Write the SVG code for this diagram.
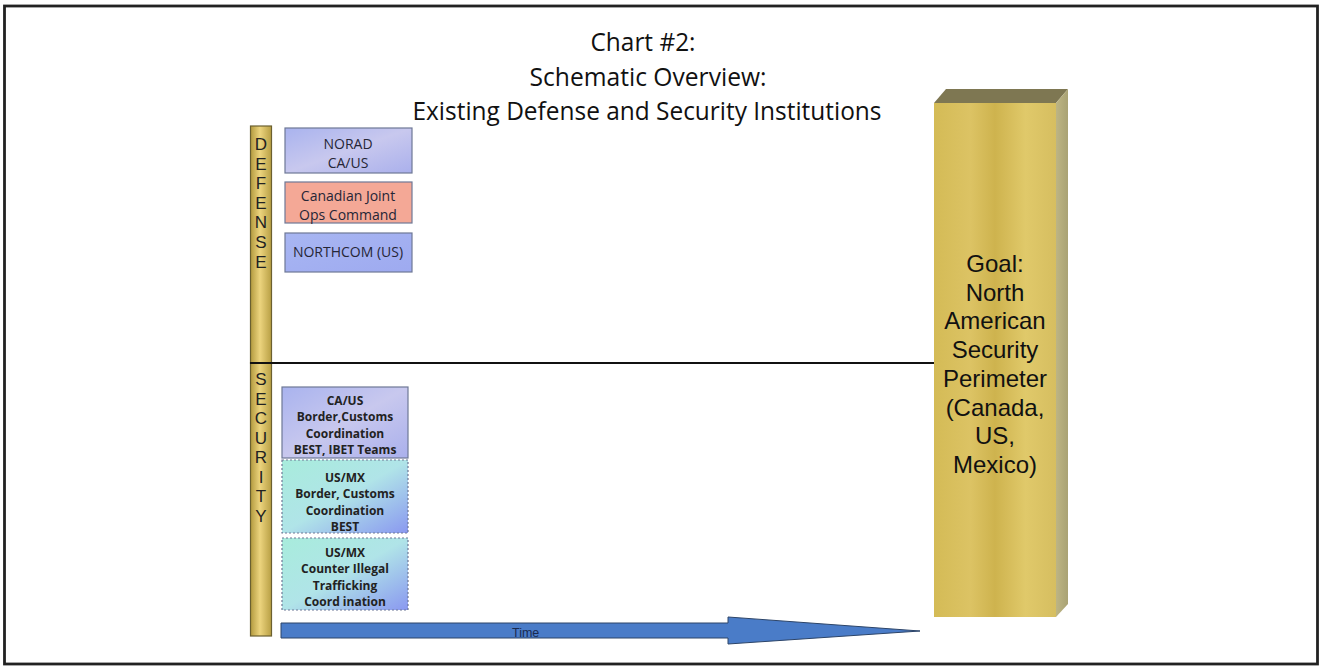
<svg xmlns="http://www.w3.org/2000/svg" width="1320" height="667" viewBox="0 0 1320 667">
<defs>
<linearGradient id="barG" x1="0" y1="0" x2="1" y2="0">
<stop offset="0" stop-color="#b39a3e"/><stop offset="0.45" stop-color="#ecd47e"/><stop offset="1" stop-color="#b89f44"/>
</linearGradient>
<linearGradient id="pillarG" x1="0" y1="0" x2="1" y2="0">
<stop offset="0" stop-color="#d4bb56"/><stop offset="0.3" stop-color="#dcc364"/><stop offset="0.5" stop-color="#ceb34e"/><stop offset="0.75" stop-color="#e0c96a"/><stop offset="1" stop-color="#d6be60"/>
</linearGradient>
<linearGradient id="sideG" x1="0" y1="0" x2="1" y2="0">
<stop offset="0" stop-color="#bdb584"/><stop offset="1" stop-color="#a9a274"/>
</linearGradient>
<linearGradient id="lavG" x1="0" y1="0" x2="1" y2="1">
<stop offset="0" stop-color="#a9b3ee"/><stop offset="0.5" stop-color="#c8c8ee"/><stop offset="1" stop-color="#aab0ec"/>
</linearGradient>
<linearGradient id="blueG" x1="0" y1="0" x2="1" y2="1">
<stop offset="0" stop-color="#a8b6f2"/><stop offset="1" stop-color="#9eaaf0"/>
</linearGradient>
<linearGradient id="tealG" x1="0" y1="0" x2="1" y2="1">
<stop offset="0" stop-color="#a8ecdc"/><stop offset="0.5" stop-color="#b0e4e8"/><stop offset="1" stop-color="#8a98f0"/>
</linearGradient>
</defs>
<style>
.title{font-family:"Open Sans","Liberation Sans",sans-serif;font-size:25px;fill:#111;text-anchor:middle}
.vl{font-family:"Liberation Sans",Arial,sans-serif;font-size:17px;fill:#222;text-anchor:middle}
.bt{font-family:"Open Sans","Liberation Sans",sans-serif;font-size:14px;fill:#262636;text-anchor:middle}
.st{font-family:"Open Sans","Liberation Sans",sans-serif;font-size:12px;font-weight:bold;fill:#222;text-anchor:middle}
.gt{font-family:"Liberation Sans",Arial,sans-serif;font-size:24px;fill:#111;text-anchor:middle}
.box{stroke:#6e7896;stroke-width:1.2}
.dot{stroke:#6e7896;stroke-width:1.2;stroke-dasharray:2 2}
</style>
<rect x="4.5" y="6" width="1313" height="658" fill="#fff" stroke="#222" stroke-width="2.8"/>
<g id="title">
<text class="title" x="643" y="51" textLength="105" lengthAdjust="spacingAndGlyphs">Chart #2:</text>
<text class="title" x="648" y="86" textLength="237" lengthAdjust="spacingAndGlyphs">Schematic Overview:</text>
<text class="title" x="647" y="120" textLength="469" lengthAdjust="spacingAndGlyphs">Existing Defense and Security Institutions</text>
</g>
<g id="defense-bar">
<rect x="250.5" y="126" width="21" height="237" fill="url(#barG)" stroke="#6b6030" stroke-width="1.2"/>
<text class="vl"><tspan x="261" y="150">D</tspan><tspan x="261" y="169.6">E</tspan><tspan x="261" y="189.2">F</tspan><tspan x="261" y="208.8">E</tspan><tspan x="261" y="228.4">N</tspan><tspan x="261" y="248">S</tspan><tspan x="261" y="267.6">E</tspan></text>
</g>
<g id="security-bar">
<rect x="250.5" y="363" width="21" height="273" fill="url(#barG)" stroke="#6b6030" stroke-width="1.2"/>
<text class="vl"><tspan x="261" y="385">S</tspan><tspan x="261" y="404.5">E</tspan><tspan x="261" y="424">C</tspan><tspan x="261" y="443.5">U</tspan><tspan x="261" y="463">R</tspan><tspan x="261" y="482.5">I</tspan><tspan x="261" y="502">T</tspan><tspan x="261" y="521.5">Y</tspan></text>
</g>
<g id="norad">
<rect class="box" x="285" y="128" width="127" height="45" fill="url(#lavG)"/>
<text class="bt" x="348" y="149">NORAD</text>
<text class="bt" x="348" y="168">CA/US</text>
</g>
<g id="cjoc">
<rect class="box" x="285" y="182" width="127" height="41" fill="#f4a896" stroke="#8a7a86"/>
<text class="bt" x="348" y="201">Canadian Joint</text>
<text class="bt" x="348" y="220">Ops Command</text>
</g>
<g id="northcom">
<rect class="box" x="285" y="233" width="127" height="39" fill="url(#blueG)"/>
<text class="bt" x="348" y="257">NORTHCOM (US)</text>
</g>
<g id="caus">
<rect class="box" x="282" y="387" width="126" height="71" fill="url(#lavG)"/>
<text class="st"><tspan x="345" y="404.5">CA/US</tspan><tspan x="345" y="421">Border,Customs</tspan><tspan x="345" y="437.5">Coordination</tspan><tspan x="345" y="454">BEST, IBET Teams</tspan></text>
</g>
<g id="usmx1">
<rect class="dot" x="282" y="460" width="126" height="73" fill="url(#tealG)"/>
<text class="st"><tspan x="345" y="481.5">US/MX</tspan><tspan x="345" y="497.5">Border, Customs</tspan><tspan x="345" y="514.5">Coordination</tspan><tspan x="345" y="530.5">BEST</tspan></text>
</g>
<g id="usmx2">
<rect class="dot" x="282" y="538" width="126" height="72" fill="url(#tealG)"/>
<text class="st"><tspan x="345" y="556.5">US/MX</tspan><tspan x="345" y="572.5">Counter Illegal</tspan><tspan x="345" y="589.5">Trafficking</tspan><tspan x="345" y="605.5">Coord ination</tspan></text>
</g>
<g id="goal">
<polygon points="934,103 946,89 1068,89 1056,103" fill="#7e7752"/>
<polygon points="1056,103 1068,89 1068,604 1056,617" fill="url(#sideG)"/>
<rect x="934" y="103" width="122" height="514" fill="url(#pillarG)"/>
<text class="gt"><tspan x="995" y="272">Goal:</tspan><tspan x="995" y="300.7">North</tspan><tspan x="995" y="329.4">American</tspan><tspan x="995" y="358">Security</tspan><tspan x="995" y="386.8">Perimeter</tspan><tspan x="995" y="415.5">(Canada,</tspan><tspan x="995" y="444">US,</tspan><tspan x="995" y="473">Mexico)</tspan></text>
</g>
<g id="connectors">
<line x1="250" y1="363" x2="934" y2="363" stroke="#111" stroke-width="2"/>
<polygon points="281,623 728,623 728,617 920,631 728,644 728,638 281,638" fill="#4a7cc8" stroke="#2c4468" stroke-width="1"/>
<text x="512" y="637" font-family="Liberation Sans,Arial,sans-serif" font-size="12.5" fill="#1a2a50">Time</text>
</g>
</svg>
